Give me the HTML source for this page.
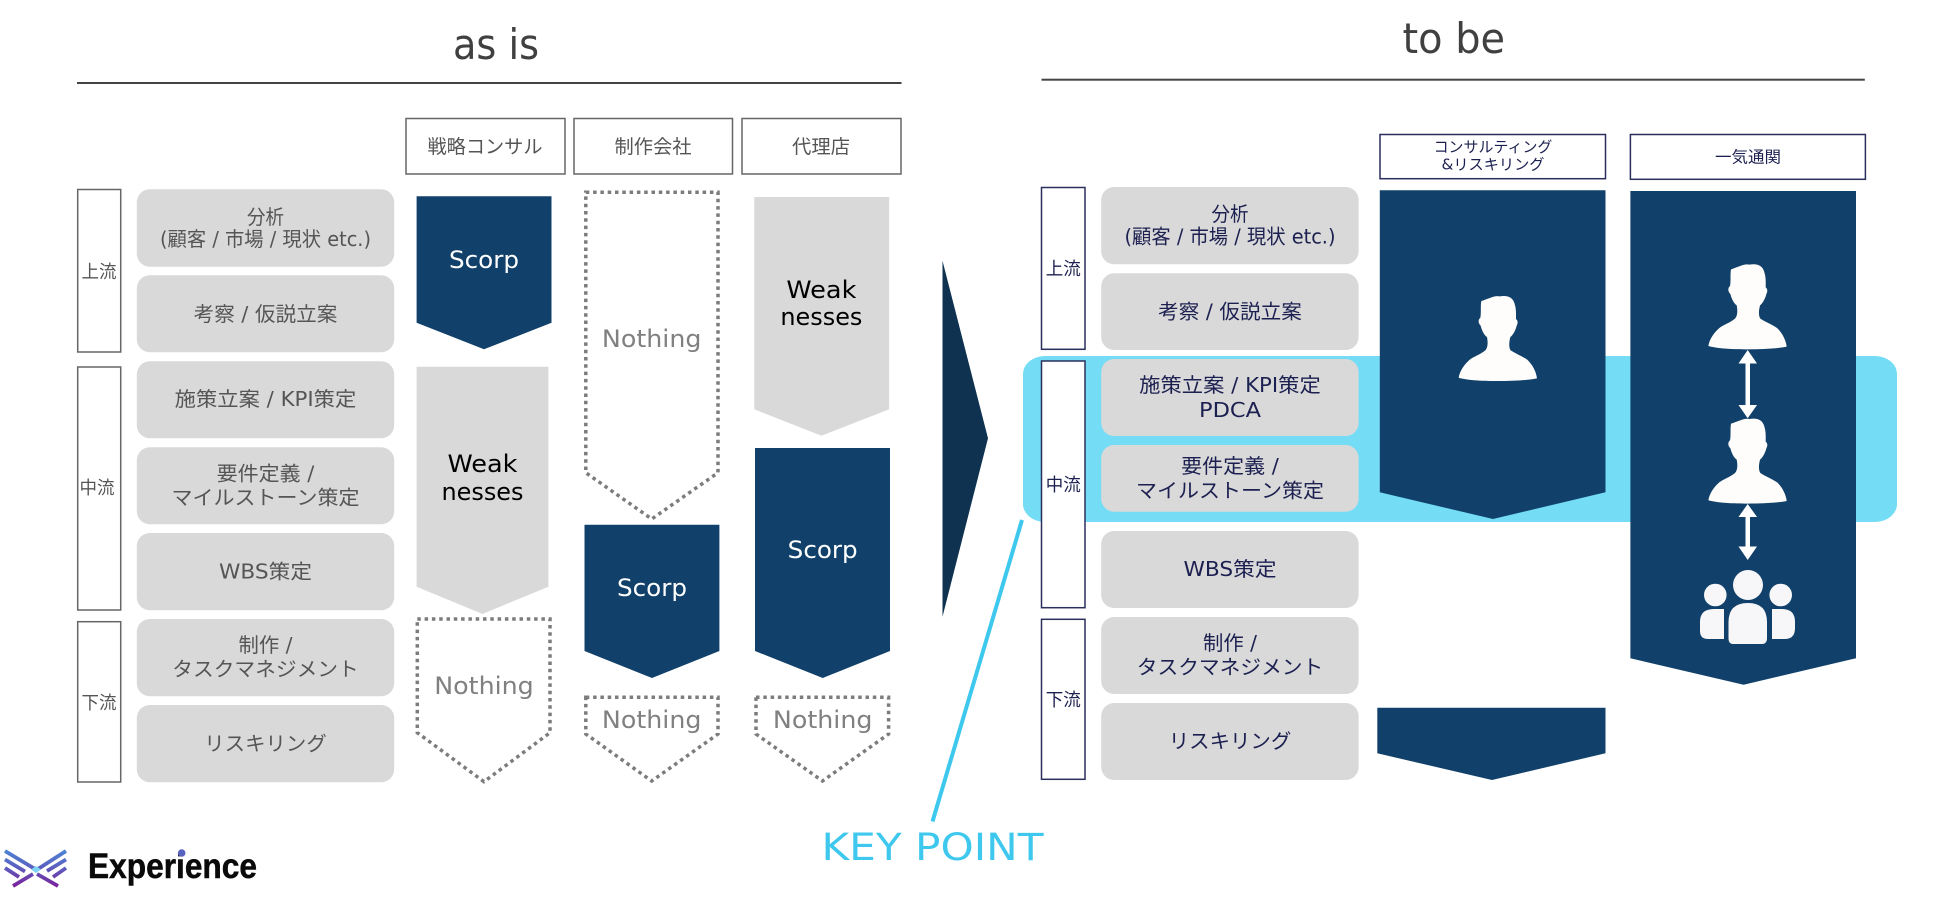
<!DOCTYPE html>
<html lang="ja"><head><meta charset="utf-8"><title>as is / to be</title>
<style>
html,body{margin:0;padding:0;background:#fff;width:1950px;height:905px;overflow:hidden}
svg{display:block}
text{font-family:"DejaVu Sans","Noto Sans CJK JP",sans-serif;text-anchor:middle}
.cj{font-size:20px;font-weight:400}
.l{fill:#555}
.r{fill:#1c2050}
.d{fill:none;stroke:#7c7c7c;stroke-width:3.500;stroke-dasharray:3.500 3.800}
.m{font-size:24px}
.p{fill:#fffdfb}
</style></head><body>
<svg xmlns="http://www.w3.org/2000/svg" width="1950" height="905" viewBox="0 0 1950 905">
<defs>
<linearGradient id="lg" gradientUnits="userSpaceOnUse" x1="0" y1="849" x2="0" y2="887"><stop offset="0" stop-color="#4a86d6"/><stop offset=".45" stop-color="#5a62c0"/><stop offset="1" stop-color="#7a1f9a"/></linearGradient>
<path id="person" d="M-50 16 C-30 10 -10 -2 5 2 C30 -2 45 5 50 25 C55 40 54 55 54 70 C60 75 60 82 56 90 C52 105 45 118 37 124 C33 140 32 155 38 164 C55 175 75 183 88 192 C105 208 115 230 117 248 C90 254 40 256 0 256 C-40 256 -92 254 -118 246 C-115 225 -100 205 -85 192 C-72 182 -52 176 -38 164 C-30 155 -30 140 -33 124 C-42 118 -48 105 -52 90 C-60 82 -60 72 -53 66 C-50 50 -53 30 -50 16Z"/>
</defs>

<!-- AS IS -->
<text x="496" y="59" font-size="42" fill="#404040" textLength="86" lengthAdjust="spacingAndGlyphs">as is</text>
<rect x="77" y="82" width="824.500" height="2" fill="#444"/>
<g fill="#fff" stroke="#666" stroke-width="1.500">
<rect x="406" y="118.500" width="159" height="55.500"/>
<rect x="574" y="118.500" width="158.500" height="55.500"/>
<rect x="742" y="118.500" width="159" height="55.500"/>
<rect x="77.700" y="189.500" width="43" height="162.500"/>
<rect x="77.700" y="367" width="43" height="243"/>
<rect x="77.700" y="621.700" width="43" height="160.300"/>
</g>
<g class="cj l">
<text x="485" y="153" textLength="115" lengthAdjust="spacingAndGlyphs" font-size="19">戦略コンサル</text>
<text x="653" y="153" textLength="77" lengthAdjust="spacingAndGlyphs" font-size="19">制作会社</text>
<text x="821" y="153" textLength="58" lengthAdjust="spacingAndGlyphs" font-size="19">代理店</text>
<text x="99" y="278" textLength="35" lengthAdjust="spacingAndGlyphs" font-size="18">上流</text>
<text x="97" y="494" textLength="35" lengthAdjust="spacingAndGlyphs" font-size="18">中流</text>
<text x="99" y="709" textLength="35" lengthAdjust="spacingAndGlyphs" font-size="18">下流</text>
</g>
<g fill="#d9d9d9">
<rect x="136.800" y="189.300" width="257.400" height="77.400" rx="13"/>
<rect x="136.800" y="275.300" width="257.400" height="77" rx="13"/>
<rect x="136.800" y="361.300" width="257.400" height="77" rx="13"/>
<rect x="136.800" y="447.300" width="257.400" height="77" rx="13"/>
<rect x="136.800" y="533" width="257.400" height="77.300" rx="13"/>
<rect x="136.800" y="619" width="257.400" height="77.300" rx="13"/>
<rect x="136.800" y="705" width="257.400" height="77.300" rx="13"/>
</g>
<g class="cj l">
<text x="265.500" y="224" textLength="37" lengthAdjust="spacingAndGlyphs">分析</text>
<text x="265.500" y="246" textLength="211" lengthAdjust="spacingAndGlyphs">(顧客 / 市場 / 現状 etc.)</text>
<text x="265.500" y="321" textLength="143.600" lengthAdjust="spacingAndGlyphs">考察 / 仮説立案</text>
<text x="265.500" y="406" textLength="181.600" lengthAdjust="spacingAndGlyphs">施策立案 / KPI策定</text>
<text x="265.500" y="480.500" textLength="97.600" lengthAdjust="spacingAndGlyphs">要件定義 /</text>
<text x="265.500" y="504.500" textLength="188" lengthAdjust="spacingAndGlyphs">マイルストーン策定</text>
<text x="265.500" y="578.500" textLength="93" lengthAdjust="spacingAndGlyphs">WBS策定</text>
<text x="265.500" y="652" textLength="54" lengthAdjust="spacingAndGlyphs">制作 /</text>
<text x="265.500" y="676" textLength="186.500" lengthAdjust="spacingAndGlyphs">タスクマネジメント</text>
<text x="265.500" y="750.500" textLength="122.500" lengthAdjust="spacingAndGlyphs">リスキリング</text>
</g>

<!-- as-is chevrons -->
<polygon points="416.600,196.300 551.500,196.300 551.500,322.700 484,349.300 416.600,322.700" fill="#11416a"/>
<polygon points="416.600,366.700 548.400,366.700 548.400,586.700 482.500,614 416.600,586.700" fill="#d9d9d9"/>
<polygon class="d" points="417.300,619 550,619 550,732.700 484,781.700 417.300,732.700"/>
<polygon class="d" points="585.800,192.300 718,192.300 718,472.700 651.700,519 585.800,472.700"/>
<polygon points="584.500,524.700 719.400,524.700 719.400,651 652,678 584.500,651" fill="#11416a"/>
<polygon class="d" points="585.800,697.300 718,697.300 718,734 651.700,781 585.800,734"/>
<polygon points="754.300,197 889.200,197 889.200,409.300 821.400,435.700 754.300,409.300" fill="#d9d9d9"/>
<polygon points="755,448 890,448 890,651 822.700,678 755,651" fill="#11416a"/>
<polygon class="d" points="756,697.300 888.600,697.300 888.600,734 822.500,781 756,734"/>
<g class="m">
<text x="484" y="268" fill="#fff" textLength="70" lengthAdjust="spacingAndGlyphs">Scorp</text>
<text x="482.500" y="472" fill="#000" textLength="70" lengthAdjust="spacingAndGlyphs">Weak</text>
<text x="482.500" y="500" fill="#000" textLength="82" lengthAdjust="spacingAndGlyphs">nesses</text>
<text x="484" y="694" fill="#808080" textLength="99.500" lengthAdjust="spacingAndGlyphs">Nothing</text>
<text x="651.700" y="347" fill="#808080" textLength="99.500" lengthAdjust="spacingAndGlyphs">Nothing</text>
<text x="652" y="596" fill="#fff" textLength="70" lengthAdjust="spacingAndGlyphs">Scorp</text>
<text x="651.700" y="728" fill="#808080" textLength="99.500" lengthAdjust="spacingAndGlyphs">Nothing</text>
<text x="821.400" y="298" fill="#000" textLength="70" lengthAdjust="spacingAndGlyphs">Weak</text>
<text x="821.400" y="325" fill="#000" textLength="82" lengthAdjust="spacingAndGlyphs">nesses</text>
<text x="822.700" y="558" fill="#fff" textLength="70" lengthAdjust="spacingAndGlyphs">Scorp</text>
<text x="822.700" y="728" fill="#808080" textLength="99.500" lengthAdjust="spacingAndGlyphs">Nothing</text>
</g>

<!-- Center arrow -->
<polygon points="942.500,260.700 988,438.300 942.500,616.700" fill="#0e324f"/>

<!-- Key point -->
<line x1="1022" y1="520" x2="932.500" y2="821.500" stroke="#3ec8ee" stroke-width="4"/>
<text x="932.500" y="860" font-size="37" fill="#3ec8ee" textLength="222" lengthAdjust="spacingAndGlyphs" style="font-weight:400">KEY POINT</text>

<!-- TO BE -->
<text x="1453.800" y="53" font-size="42" fill="#404040" textLength="102.600" lengthAdjust="spacingAndGlyphs">to be</text>
<rect x="1041.500" y="78.700" width="823.300" height="2" fill="#444"/>
<rect x="1023" y="356" width="874" height="166" rx="22" ry="18" fill="#74dcf5"/>

<g fill="#fff" stroke="#2a2f5e" stroke-width="1.500">
<rect x="1380" y="134.500" width="225.500" height="44.200"/>
<rect x="1630.400" y="134.500" width="235" height="44.800"/>
<rect x="1041.500" y="187.500" width="43.500" height="161.800"/>
<rect x="1041.500" y="361" width="43.500" height="246.700"/>
<rect x="1041.500" y="619.300" width="43.500" height="160"/>
</g>
<g class="cj r">
<text x="1493" y="152" font-size="15" textLength="118.800" lengthAdjust="spacingAndGlyphs">コンサルティング</text>
<text x="1493" y="169.500" font-size="15" textLength="103" lengthAdjust="spacingAndGlyphs">&amp;リスキリング</text>
<text x="1748" y="162.500" font-size="16" textLength="66" lengthAdjust="spacingAndGlyphs">一気通関</text>
<text x="1063.300" y="275" font-size="18" textLength="35" lengthAdjust="spacingAndGlyphs">上流</text>
<text x="1063.300" y="491" font-size="18" textLength="35" lengthAdjust="spacingAndGlyphs">中流</text>
<text x="1063.300" y="706" font-size="18" textLength="35" lengthAdjust="spacingAndGlyphs">下流</text>
</g>
<g fill="#d9d9d9">
<rect x="1101.200" y="187" width="257.400" height="77.300" rx="13"/>
<rect x="1101.200" y="273.300" width="257.400" height="76.700" rx="13"/>
<rect x="1101.200" y="359" width="257.400" height="77" rx="13"/>
<rect x="1101.200" y="445" width="257.400" height="66.700" rx="13"/>
<rect x="1101.200" y="531" width="257.400" height="77" rx="13"/>
<rect x="1101.200" y="617" width="257.400" height="77" rx="13"/>
<rect x="1101.200" y="703" width="257.400" height="77" rx="13"/>
</g>
<g class="cj r">
<text x="1230" y="221" textLength="37" lengthAdjust="spacingAndGlyphs">分析</text>
<text x="1230" y="243.500" textLength="211" lengthAdjust="spacingAndGlyphs">(顧客 / 市場 / 現状 etc.)</text>
<text x="1230" y="318.500" textLength="143.600" lengthAdjust="spacingAndGlyphs">考察 / 仮説立案</text>
<text x="1230" y="392" textLength="181.600" lengthAdjust="spacingAndGlyphs">施策立案 / KPI策定</text>
<text x="1230" y="417" textLength="62" lengthAdjust="spacingAndGlyphs">PDCA</text>
<text x="1230" y="473" textLength="97.600" lengthAdjust="spacingAndGlyphs">要件定義 /</text>
<text x="1230" y="497.500" textLength="188" lengthAdjust="spacingAndGlyphs">マイルストーン策定</text>
<text x="1230" y="576" textLength="93" lengthAdjust="spacingAndGlyphs">WBS策定</text>
<text x="1230" y="650" textLength="54" lengthAdjust="spacingAndGlyphs">制作 /</text>
<text x="1230" y="674" textLength="186.500" lengthAdjust="spacingAndGlyphs">タスクマネジメント</text>
<text x="1230" y="748" textLength="122.500" lengthAdjust="spacingAndGlyphs">リスキリング</text>
</g>

<polygon points="1379.800,190.300 1605.500,190.300 1605.500,492.300 1493,519 1379.800,492.300" fill="#11416a"/>
<polygon points="1630.400,191 1856,191 1856,658.300 1743.600,684.700 1630.400,658.300" fill="#11416a"/>
<polygon points="1377.300,707.700 1605.500,707.700 1605.500,753.300 1492,780 1377.300,753.300" fill="#11416a"/>

<!-- persons -->
<use href="#person" class="p" transform="translate(1498,295.700) scale(.3333)"/>
<use href="#person" class="p" transform="translate(1747.700,264) scale(.3333)"/>
<use href="#person" class="p" transform="translate(1747.700,418.300) scale(.3333)"/>

<!-- arrows -->
<g fill="#fff">
<rect x="1745.500" y="360" width="4.500" height="48"/>
<polygon points="1747.700,350 1757,363.500 1738.500,363.500"/>
<polygon points="1747.700,418.300 1757,405 1738.500,405"/>
<rect x="1745.500" y="514" width="4.500" height="36"/>
<polygon points="1747.700,504 1757,517 1738.500,517"/>
<polygon points="1747.700,560 1757,546.500 1738.500,546.500"/>
</g>

<!-- group -->
<g fill="#f7f7f9">
<circle cx="1748" cy="585" r="15"/>
<circle cx="1715.300" cy="595" r="11.300"/>
<circle cx="1780.700" cy="595" r="11.300"/>
<path d="M1728.500 638 V622 Q1728.500 603 1748 603 Q1767 603 1767 622 V638 Q1767 644 1762 644 H1733 Q1728.500 644 1728.500 638Z"/>
<path d="M1724 609 H1714 Q1700 609 1700 622 V631 Q1700 639 1708 639 H1724Z"/>
<path d="M1772 609 H1782 Q1795 609 1795 622 V628 Q1795 639 1785 639 H1772Z"/>
</g>

<!-- logo -->
<g fill="none" stroke="url(#lg)" stroke-width="3.800">
<path d="M5 851 L35 869 M5 859.500 L25 871.500 M5 868 L19 877 M13 886 L33 874"/>
<path d="M66 851 L38 869 M66 859.500 L47 871 M66 868 L53 877 M58 886 L37 874"/>
</g>
<polygon points="36,866 41,869.500 36,873 31,869.500" fill="#7fd3f5"/>
<text x="172.500" y="878" font-size="35" fill="#0a0a0a" stroke="#0a0a0a" stroke-width=".5" textLength="169" lengthAdjust="spacingAndGlyphs" style="font-family:'Liberation Sans',sans-serif;font-weight:700">Experience</text>
<circle cx="181.700" cy="853" r="3.800" fill="#5a62c0"/>
</svg>
</body></html>
